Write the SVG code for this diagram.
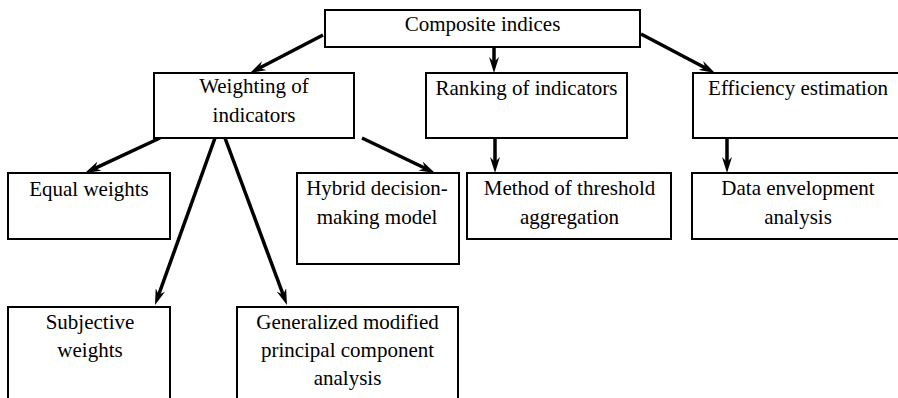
<svg xmlns="http://www.w3.org/2000/svg" width="898" height="398" viewBox="0 0 898 398">
<style>
.box{fill:#fff;stroke:#000;stroke-width:2}
.t{font-family:'Times New Roman','Liberation Serif',serif;font-size:21px;fill:#000;text-anchor:middle}
.c{stroke:#000;stroke-width:3.5;fill:none;marker-end:url(#ah)}
</style>
<defs>
<marker id="ah" viewBox="0 0 16 10" refX="8" refY="5" markerWidth="16" markerHeight="10" markerUnits="userSpaceOnUse" orient="auto">
<path d="M0,0 L16,5 L0,10 L5,5 Z" fill="#000"/>
</marker>
</defs>
<rect width="898" height="398" fill="#fff"/>
<g id="connectors">
<line class="c" x1="323" y1="35" x2="257.1" y2="69.3"/>
<line class="c" x1="494" y1="47" x2="494" y2="65"/>
<line class="c" x1="641" y1="34" x2="707.9" y2="69.2"/>
<line class="c" x1="160" y1="138" x2="92.2" y2="169.6"/>
<line class="c" x1="215" y1="138" x2="157.7" y2="297.5"/>
<line class="c" x1="225" y1="138" x2="284.2" y2="297.5"/>
<line class="c" x1="362" y1="138" x2="427.8" y2="169.5"/>
<line class="c" x1="495" y1="138" x2="495" y2="165"/>
<line class="c" x1="727" y1="138" x2="727" y2="165"/>
</g>
<g id="composite"><rect class="box" x="325" y="10" width="315" height="37"/><text class="t" x="482.5" y="31">Composite indices</text></g>
<g id="weighting"><rect class="box" x="154" y="73" width="200" height="65"/><text class="t" x="254" y="93">Weighting of</text><text class="t" x="254" y="122">indicators</text></g>
<g id="ranking"><rect class="box" x="426" y="73" width="201" height="65"/><text class="t" x="526.5" y="95">Ranking of indicators</text></g>
<g id="efficiency"><rect class="box" x="693" y="73" width="212" height="65"/><text class="t" x="798" y="95">Efficiency estimation</text></g>
<g id="equal"><rect class="box" x="8" y="173" width="162" height="66"/><text class="t" x="89" y="196">Equal weights</text></g>
<g id="hybrid"><rect class="box" x="297" y="173" width="162" height="91"/><text class="t" x="377" y="195">Hybrid decision-</text><text class="t" x="377" y="224">making model</text></g>
<g id="threshold"><rect class="box" x="467" y="173" width="204" height="66"/><text class="t" x="569.5" y="195">Method of threshold</text><text class="t" x="569.5" y="224">aggregation</text></g>
<g id="dea"><rect class="box" x="692" y="173" width="213" height="66"/><text class="t" x="798" y="195">Data envelopment</text><text class="t" x="798" y="224">analysis</text></g>
<g id="subjective"><rect class="box" x="8" y="307" width="162" height="100"/><text class="t" x="90" y="329">Subjective</text><text class="t" x="90" y="357">weights</text></g>
<g id="gmpca"><rect class="box" x="237" y="307" width="221" height="100"/><text class="t" x="347.5" y="329">Generalized modified</text><text class="t" x="347.5" y="357">principal component</text><text class="t" x="347.5" y="385">analysis</text></g>
</svg>
